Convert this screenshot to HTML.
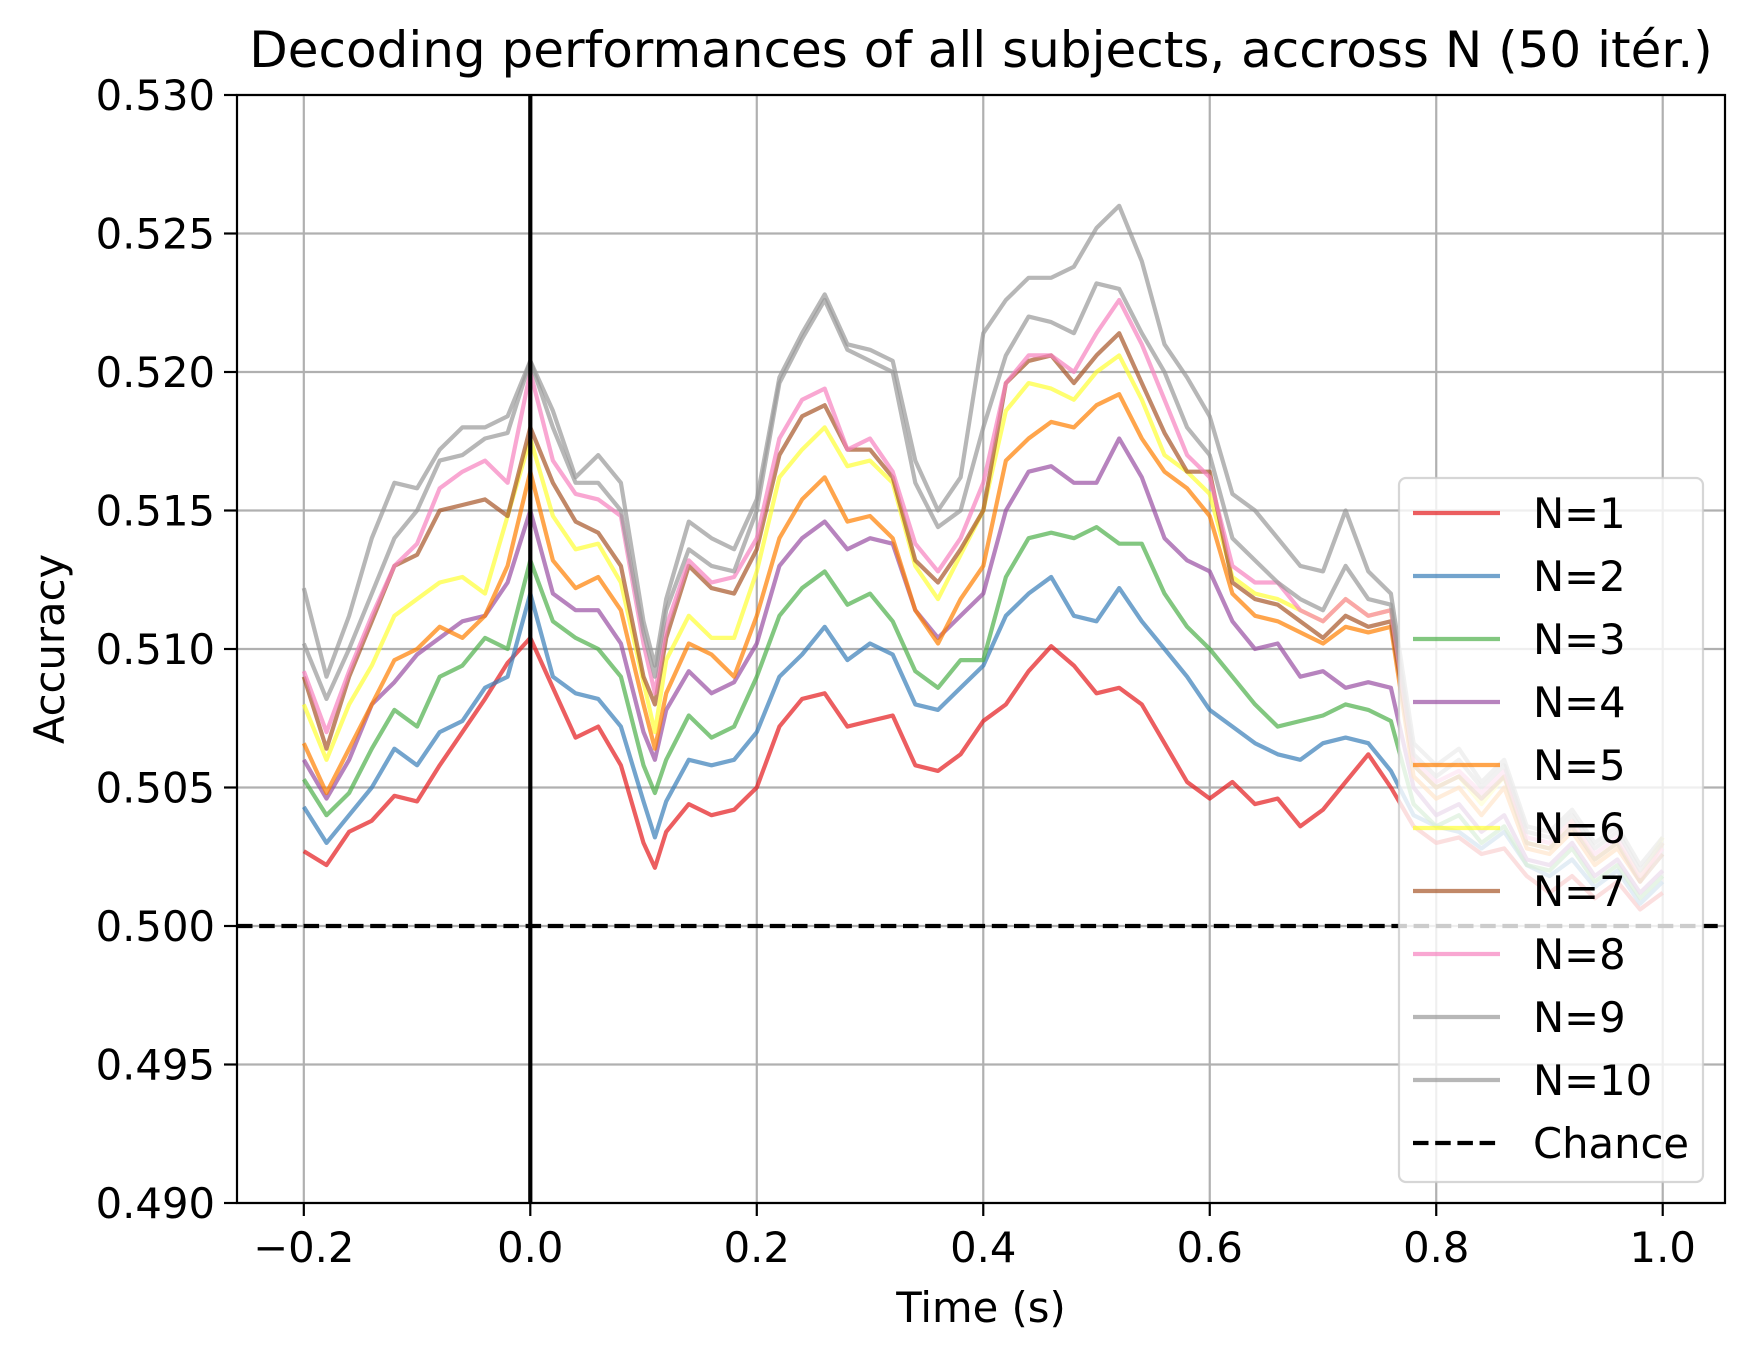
<!DOCTYPE html>
<html><head><meta charset="utf-8">
<style>
html,body{margin:0;padding:0;background:#fff;}
svg{display:block;font-family:"DejaVu Sans","Liberation Sans",sans-serif;}
</style></head>
<body>
<svg id="chart" width="1755" height="1363" viewBox="0 0 1755 1363" xmlns="http://www.w3.org/2000/svg">
<rect width="1755" height="1363" fill="#fff"/>
<g id="grid"></g>
<g id="series"></g>
<g id="axes"></g>
<g id="legend"></g>
<text x="981" y="67" font-size="50" text-anchor="middle">Decoding performances of all subjects, accross N (50 itér.)</text>
<text x="981" y="1322" font-size="41.7" text-anchor="middle">Time (s)</text>
<text transform="translate(64,649) rotate(-90)" font-size="41.7" text-anchor="middle">Accuracy</text>
</svg>
<script>
const times = [-0.2,-0.18,-0.16,-0.14,-0.12,-0.1,-0.08,-0.06,-0.04,-0.02,0,0.02,0.04,0.06,0.08,0.1,0.11,0.12,0.14,0.16,0.18,0.2,0.22,0.24,0.26,0.28,0.3,0.32,0.34,0.36,0.38,0.4,0.42,0.44,0.46,0.48,0.5,0.52,0.54,0.56,0.58,0.6,0.62,0.64,0.66,0.68,0.7,0.72,0.74,0.76,0.78,0.8,0.82,0.84,0.86,0.88,0.9,0.92,0.94,0.96,0.98,1.0];
const n1 = [.5027,.5022,.5034,.5038,.5047,.5045,.5058,.5070,.5082,.5095,.5104,.5086,.5068,.5072,.5058,.5030,.5021,.5034,.5044,.5040,.5042,.5050,.5072,.5082,.5084,.5072,.5074,.5076,.5058,.5056,.5062,.5074,.5080,.5092,.5101,.5094,.5084,.5086,.5080,.5066,.5052,.5046,.5052,.5044,.5046,.5036,.5042,.5052,.5062,.5050,.5036,.5030,.5032,.5026,.5028,.5018,.5012,.5018,.5010,.5016,.5006,.5012];
const n2 = [.5043,.5030,.5040,.5050,.5064,.5058,.5070,.5074,.5086,.5090,.5120,.5090,.5084,.5082,.5072,.5045,.5032,.5045,.5060,.5058,.5060,.5070,.5090,.5098,.5108,.5096,.5102,.5098,.5080,.5078,.5086,.5094,.5112,.5120,.5126,.5112,.5110,.5122,.5110,.5100,.5090,.5078,.5072,.5066,.5062,.5060,.5066,.5068,.5066,.5056,.5040,.5036,.5034,.5028,.5034,.5022,.5018,.5024,.5014,.5020,.5008,.5016];
const n3 = [.5053,.5040,.5048,.5064,.5078,.5072,.5090,.5094,.5104,.5100,.5132,.5110,.5104,.5100,.5090,.5058,.5048,.5060,.5076,.5068,.5072,.5090,.5112,.5122,.5128,.5116,.5120,.5110,.5092,.5086,.5096,.5096,.5126,.5140,.5142,.5140,.5144,.5138,.5138,.5120,.5108,.5100,.5090,.5080,.5072,.5074,.5076,.5080,.5078,.5074,.5044,.5036,.5040,.5030,.5036,.5022,.5020,.5028,.5016,.5022,.5010,.5018];
const n4 = [.5060,.5046,.5060,.5080,.5088,.5098,.5104,.5110,.5112,.5124,.5150,.5120,.5114,.5114,.5102,.5070,.5060,.5078,.5092,.5084,.5088,.5102,.5130,.5140,.5146,.5136,.5140,.5138,.5114,.5104,.5112,.5120,.5150,.5164,.5166,.5160,.5160,.5176,.5162,.5140,.5132,.5128,.5110,.5100,.5102,.5090,.5092,.5086,.5088,.5086,.5050,.5040,.5044,.5034,.5040,.5024,.5022,.5030,.5018,.5024,.5012,.5020];
const n5 = [.5066,.5048,.5064,.5080,.5096,.5100,.5108,.5104,.5112,.5130,.5164,.5132,.5122,.5126,.5114,.5080,.5064,.5084,.5102,.5098,.5090,.5112,.5140,.5154,.5162,.5146,.5148,.5140,.5114,.5102,.5118,.5130,.5168,.5176,.5182,.5180,.5188,.5192,.5176,.5164,.5158,.5148,.5120,.5112,.5110,.5106,.5102,.5108,.5106,.5108,.5054,.5046,.5050,.5040,.5050,.5028,.5026,.5034,.5022,.5028,.5016,.5030];
const n6 = [.5080,.5060,.5080,.5094,.5112,.5118,.5124,.5126,.5120,.5148,.5176,.5148,.5136,.5138,.5124,.5088,.5070,.5096,.5112,.5104,.5104,.5128,.5162,.5172,.5180,.5166,.5168,.5160,.5130,.5118,.5134,.5150,.5186,.5196,.5194,.5190,.5200,.5206,.5190,.5170,.5164,.5156,.5126,.5120,.5118,.5114,.5110,.5118,.5112,.5114,.5058,.5050,.5054,.5044,.5054,.5030,.5028,.5038,.5024,.5030,.5018,.5032];
const n7 = [.5090,.5064,.5090,.5110,.5130,.5134,.5150,.5152,.5154,.5148,.5180,.5160,.5146,.5142,.5130,.5090,.5080,.5104,.5130,.5122,.5120,.5136,.5170,.5184,.5188,.5172,.5172,.5162,.5132,.5124,.5136,.5150,.5196,.5204,.5206,.5196,.5206,.5214,.5196,.5178,.5164,.5164,.5124,.5118,.5116,.5110,.5104,.5112,.5108,.5110,.5058,.5050,.5054,.5046,.5054,.5030,.5028,.5036,.5024,.5030,.5016,.5026];
const n8 = [.5092,.5070,.5092,.5112,.5130,.5138,.5158,.5164,.5168,.5160,.5200,.5168,.5156,.5154,.5148,.5102,.5084,.5108,.5132,.5124,.5126,.5140,.5176,.5190,.5194,.5172,.5176,.5164,.5138,.5128,.5140,.5160,.5196,.5206,.5206,.5200,.5214,.5226,.5210,.5190,.5170,.5162,.5130,.5124,.5124,.5114,.5110,.5118,.5112,.5114,.5060,.5052,.5056,.5048,.5056,.5032,.5030,.5038,.5026,.5032,.5018,.5028];
const n9 = [.5102,.5082,.5100,.5120,.5140,.5150,.5168,.5170,.5176,.5178,.5204,.5180,.5160,.5160,.5150,.5106,.5090,.5114,.5136,.5130,.5128,.5150,.5196,.5212,.5226,.5208,.5204,.5200,.5160,.5144,.5150,.5180,.5206,.5220,.5218,.5214,.5232,.5230,.5214,.5200,.5180,.5170,.5140,.5132,.5124,.5118,.5114,.5130,.5118,.5116,.5062,.5054,.5060,.5050,.5058,.5034,.5032,.5040,.5028,.5034,.5020,.5030];
const n10 = [.5122,.5090,.5112,.5140,.5160,.5158,.5172,.5180,.5180,.5184,.5204,.5186,.5162,.5170,.5160,.5110,.5094,.5118,.5146,.5140,.5136,.5154,.5198,.5214,.5228,.5210,.5208,.5204,.5168,.5150,.5162,.5214,.5226,.5234,.5234,.5238,.5252,.5260,.5240,.5210,.5198,.5184,.5156,.5150,.5140,.5130,.5128,.5150,.5128,.5120,.5066,.5058,.5064,.5052,.5060,.5036,.5034,.5042,.5030,.5036,.5022,.5032];
const seriesNames = ["N=1","N=2","N=3","N=4","N=5","N=6","N=7","N=8","N=9","N=10"];
const seriesValues = [n1,n2,n3,n4,n5,n6,n7,n8,n9,n10];
const xTicks = [-0.2,0,0.2,0.4,0.6,0.8,1.0];
const xTickLabels = ["\u22120.2","0.0","0.2","0.4","0.6","0.8","1.0"];
const yTicks = [0.490,0.495,0.500,0.505,0.510,0.515,0.520,0.525,0.530];
const yTickLabels = ["0.490","0.495","0.500","0.505","0.510","0.515","0.520","0.525","0.530"];
const chanceLevel = 0.5;
const stimOnset = 0;

const colors = ["#e41a1c","#377eb8","#4daf4a","#984ea3","#ff7f00","#ffff33","#a65628","#f781bf","#999999","#999999"];
const L=237,R=1725,T=95,B=1203, X0=-0.259, X1=1.055, Y0=0.490, Y1=0.530;
const xs = v => L + (v-X0)/(X1-X0)*(R-L);
const ys = v => B - (v-Y0)/(Y1-Y0)*(B-T);
const NS="http://www.w3.org/2000/svg";
function mk(tag, attrs, parent){const e=document.createElementNS(NS,tag);for(const k in attrs)e.setAttribute(k,attrs[k]);parent.appendChild(e);return e;}
const grid=document.getElementById('grid'), ser=document.getElementById('series'), axes=document.getElementById('axes'), leg=document.getElementById('legend');

xTicks.forEach((t,i)=>{
  const x=xs(t);
  const g=mk('line',{x1:x,x2:x,y1:T,y2:B,stroke:'#b0b0b0','stroke-width':2.2},grid);
  
  
  const tk=mk('line',{x1:x,x2:x,y1:B,y2:B+13,stroke:'#000','stroke-width':2.2},axes);
  
  
  const tl=mk('text',{x:x,y:B+59,'font-size':41.7,'text-anchor':'middle'},axes);
  tl.textContent=xTickLabels[i];
  
  
});
yTicks.forEach((v,i)=>{
  const y=ys(v);
  const g=mk('line',{x1:L,x2:R,y1:y,y2:y,stroke:'#b0b0b0','stroke-width':2.2},grid);
  
  
  const tk=mk('line',{x1:L-13,x2:L,y1:y,y2:y,stroke:'#000','stroke-width':2.2},axes);
  
  
  const tl=mk('text',{x:L-22,y:y+15,'font-size':41.7,'text-anchor':'end'},axes);
  tl.textContent=yTickLabels[i];
  
  
});

seriesValues.forEach((vals,si)=>{
  const d=vals.map((v,i)=>(i?'L':'M')+xs(times[i]).toFixed(1)+' '+ys(v).toFixed(1)).join(' ');
  const p=mk('path',{d:d,fill:'none',stroke:colors[si],'stroke-opacity':0.7,'stroke-width':4.2,'stroke-linejoin':'round'},ser);
  
  
});
const vl=mk('line',{x1:xs(stimOnset),x2:xs(stimOnset),y1:T,y2:B,stroke:'#000','stroke-width':4.2},ser);


const ch=mk('line',{x1:L,x2:R,y1:ys(chanceLevel),y2:ys(chanceLevel),stroke:'#000','stroke-width':4.2,'stroke-dasharray':'15.5 6.7'},ser);



const frame=mk('rect',{x:L,y:T,width:R-L,height:B-T,fill:'none',stroke:'#000','stroke-width':2.2},axes);



const box=mk('rect',{x:1399,y:478,width:304,height:704,rx:7,fill:'#fff','fill-opacity':0.8,stroke:'#cccccc','stroke-opacity':0.8,'stroke-width':2.2},leg);


const legLabels = seriesNames.concat(["Chance"]);
legLabels.forEach((name,i)=>{
  const y=513+i*63;
  const isChance = i===10;
  const ln=mk('line',{x1:1413,x2:1500,y1:y,y2:y,stroke:isChance?'#000':colors[i],'stroke-opacity':isChance?1:0.7,'stroke-width':4.2},leg);
  if(isChance) ln.setAttribute('stroke-dasharray','15.5 6.7');
  
  
  const tx=mk('text',{x:1533,y:y+15,'font-size':41.7},leg);
  tx.textContent=name;
  
  
});
</script>
</body></html>
